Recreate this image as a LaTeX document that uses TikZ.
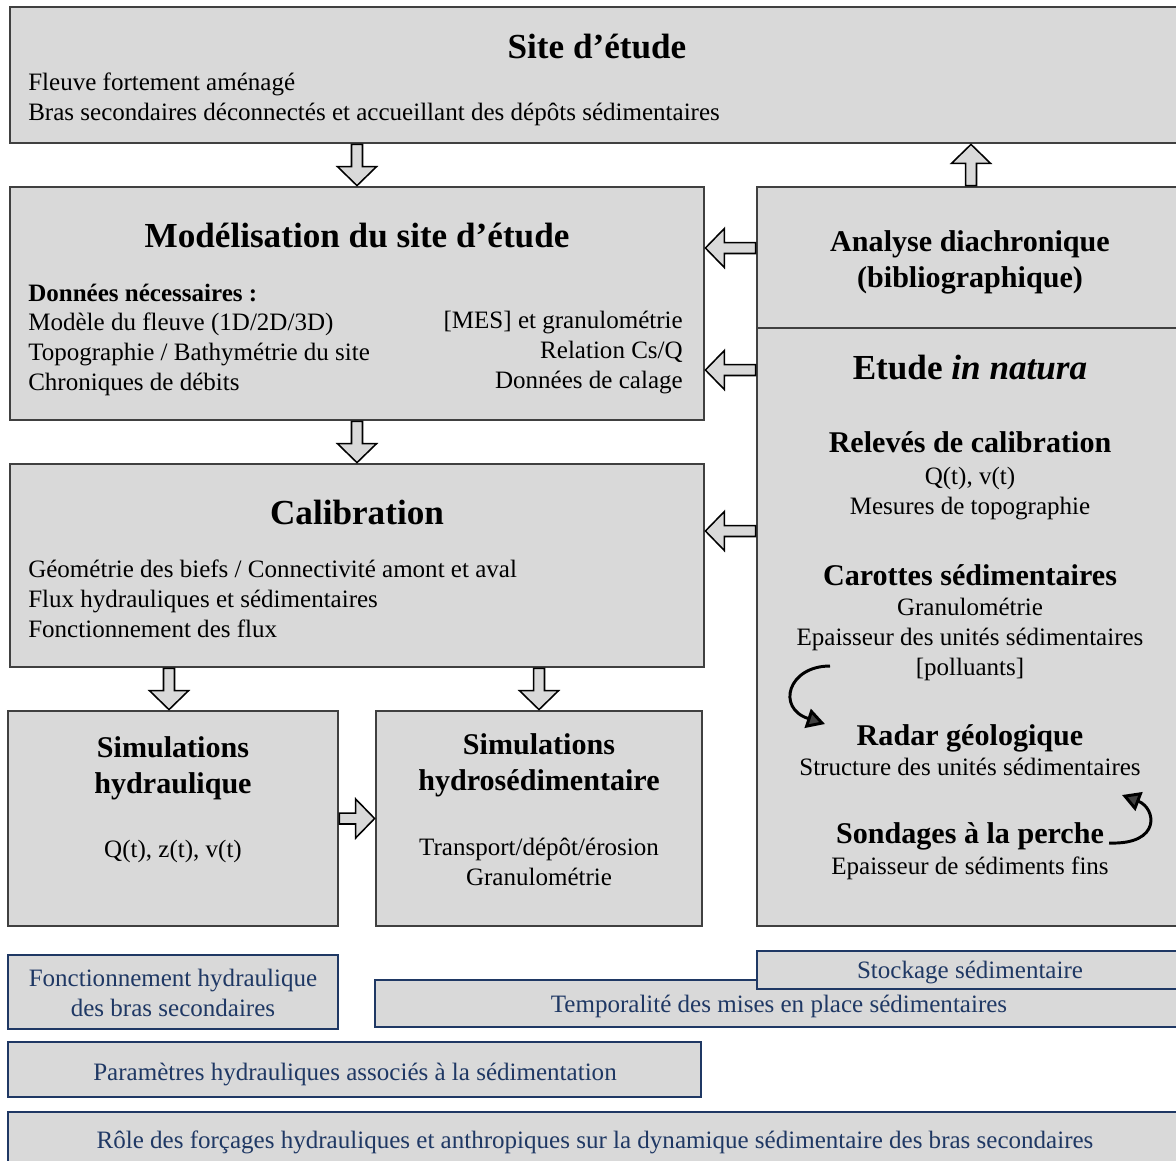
\documentclass[tikz,border=0pt]{standalone}
\usepackage{fontspec}
\setmainfont{Liberation Serif}
\usetikzlibrary{fit,calc,arrows.meta}
\definecolor{boxgray}{HTML}{D9D9D9}
\definecolor{edgegray}{HTML}{404040}
\definecolor{navy}{HTML}{1F3864}

\tikzset{
  box/.style={draw=edgegray, line width=2pt, fill=boxgray, inner sep=0pt},
  bluebox/.style={draw=navy, line width=1.6pt, fill=boxgray, inner sep=0pt},
  title/.style={font=\fontsize{25}{30}\selectfont\bfseries, inner sep=0pt},
  subtitle/.style={font=\fontsize{21.4}{25.6}\selectfont\bfseries, align=center, inner sep=0pt},
  txt/.style={font=\fontsize{17.8}{21.3}\selectfont, inner sep=0pt},
  bluetxt/.style={txt, text=navy, align=center},
  blockarrow/.style={fill=boxgray, draw=black, line width=1.1pt, line join=miter,
    to path={let \p0=(\tikztostart), \p1=($(\tikztotarget)-(\tikztostart)$),
      \n1={atan2(\y1,\x1)}, \n2={veclen(\x1,\y1)} in
      ([shift={(\p0)},rotate=\n1]0pt,-3.9pt) -- ([shift={(\p0)},rotate=\n1]{\n2*1pt-13.5pt},-3.9pt)
      -- ([shift={(\p0)},rotate=\n1]{\n2*1pt-13.5pt},-13.9pt) -- ([shift={(\p0)},rotate=\n1]{\n2*1pt},0pt)
      -- ([shift={(\p0)},rotate=\n1]{\n2*1pt-13.5pt},13.9pt) -- ([shift={(\p0)},rotate=\n1]{\n2*1pt-13.5pt},3.9pt)
      -- ([shift={(\p0)},rotate=\n1]0pt,3.9pt) -- cycle}},
  turn/.style={line width=2.1pt, -{Triangle[length=13pt, width=14pt, fill=edgegray]}}
}

\begin{document}
\begin{tikzpicture}[x=0.025cm, y=-0.025cm]
  \useasboundingbox (0,0) rectangle (1176,1160);

  % boxes
  \node[box, fit={(10,7) (1185,143)}] (site) {};
  \node[box, fit={(10,187) (704,420)}] (model) {};
  \node[box, fit={(757,187) (1185,328)}] (analyse) {};
  \node[box, fit={(757,328) (1185,926)}] (natura) {};
  \node[box, fit={(10,464) (704,667)}] (calib) {};
  \node[box, fit={(8,711) (338,926)}] (simhyd) {};
  \node[box, fit={(376,711) (702,926)}] (simsed) {};

  % results
  \node[bluebox, fit={(8,955) (338,1029)}] (resfonc) {};
  \node[bluebox, fit={(375,980) (1185,1027)}] (restemp) {};
  \node[bluebox, fit={(757,951) (1185,989)}] (resstock) {};
  \node[bluebox, fit={(8,1042) (701,1097)}] (resparam) {};
  \node[bluebox, fit={(8,1112) (1185,1175)}] (resrole) {};

  % site
  \node[title, anchor=base] (sitetitle) at (597,58) {Site d’étude};
  \node[txt, anchor=base west, align=left] (sitetxt) at (28,120)
    {Fleuve fortement aménagé\\Bras secondaires déconnectés et accueillant des dépôts sédimentaires};

  % modelisation
  \node[title, anchor=base] (modeltitle) at (357,247) {Modélisation du site d’étude};
  \node[txt, anchor=base west, font=\fontsize{17.8}{21.3}\selectfont\bfseries] (modelhead) at (28,301) {Données nécessaires :};
  \node[txt, anchor=base west, align=left] (modelleft) at (28,390)
    {Modèle du fleuve (1D/2D/3D)\\Topographie / Bathymétrie du site\\Chroniques de débits};
  \node[txt, anchor=base east, align=right] (modelright) at (683,388)
    {{[MES]} et granulométrie\\Relation Cs/Q\\Données de calage};

  % analyse
  \node[subtitle, anchor=base] (analysetitle) at (970,287) {Analyse diachronique\\(bibliographique)};

  % in natura
  \node[title, anchor=base] (naturatitle) at (970,379) {Etude \textit{in natura}};
  \node[subtitle, anchor=base] (releves) at (970,452) {Relevés de calibration};
  \node[txt, anchor=base, align=center] (relevestxt) at (970,514) {Q(t), v(t)\\Mesures de topographie};
  \node[subtitle, anchor=base] (carottes) at (970,585) {Carottes sédimentaires};
  \node[txt, anchor=base, align=center] (carottestxt) at (970,675)
    {Granulométrie\\Epaisseur des unités sédimentaires\\{[polluants]}};
  \node[subtitle, anchor=base] (radar) at (970,745) {Radar géologique};
  \node[txt, anchor=base, align=center] (radartxt) at (970,775) {Structure des unités sédimentaires};
  \node[subtitle, anchor=base] (sondages) at (970,843) {Sondages à la perche};
  \node[txt, anchor=base, align=center] (sondagestxt) at (970,874) {Epaisseur de sédiments fins};

  % calibration
  \node[title, anchor=base] (calibtitle) at (357,524) {Calibration};
  \node[txt, anchor=base west, align=left] (calibtxt) at (28,637)
    {Géométrie des biefs / Connectivité amont et aval\\Flux hydrauliques et sédimentaires\\Fonctionnement des flux};

  % simulations
  \node[subtitle, anchor=base] (simhydtitle) at (173,793) {Simulations\\hydraulique};
  \node[txt, anchor=base] (simhydtxt) at (173,857) {Q(t), z(t), v(t)};
  \node[subtitle, anchor=base] (simsedtitle) at (539,790) {Simulations\\hydrosédimentaire};
  \node[txt, anchor=base, align=center] (simsedtxt) at (539,885) {Transport/dépôt/érosion\\Granulométrie};

  % result texts
  \node[bluetxt, anchor=base] (resfonctxt) at (173,1016) {Fonctionnement hydraulique\\des bras secondaires};
  \node[bluetxt, anchor=base] (resstocktxt) at (970,978) {Stockage sédimentaire};
  \node[bluetxt, anchor=base] (restemptxt) at (779,1012) {Temporalité des mises en place sédimentaires};
  \node[bluetxt, anchor=base] (resparamtxt) at (355,1080) {Paramètres hydrauliques associés à la sédimentation};
  \node[bluetxt, anchor=base] (resroletxt) at (595,1148) {Rôle des forçages hydrauliques et anthropiques sur la dynamique sédimentaire des bras secondaires};

  % block arrows
  \coordinate (row1) at (0,248);
  \coordinate (row2) at (0,370);
  \coordinate (row3) at (0,531);
  \coordinate (col1) at (169,0);
  \draw[blockarrow] (site.south -| model.north) to (model.north);
  \draw[blockarrow] (analyse.north) to (analyse.north |- site.south);
  \draw[blockarrow] (analyse.west |- row1) to (model.east |- row1);
  \draw[blockarrow] (natura.west |- row2) to (model.east |- row2);
  \draw[blockarrow] (model.south) to (model.south |- calib.north);
  \draw[blockarrow] (natura.west |- row3) to (calib.east |- row3);
  \draw[blockarrow] (calib.south -| col1) to (simhyd.north -| col1);
  \draw[blockarrow] (calib.south -| simsed.north) to (simsed.north);
  \draw[blockarrow] (simhyd.east) to (simhyd.east -| simsed.west);

  % curved arrows
  \coordinate (loopa) at (830,666);
  \coordinate (loopb) at (825,724);
  \coordinate (loopc) at (1109,843);
  \coordinate (loopd) at (1122,795);
  \draw[turn] (loopa) .. controls (788,666) and (776,708) .. (loopb);
  \draw[turn] (loopc) .. controls (1162,845) and (1156,808) .. (loopd);
\end{tikzpicture}
\end{document}
